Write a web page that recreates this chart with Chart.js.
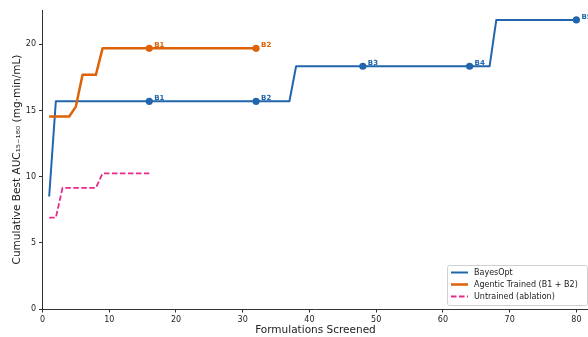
<!DOCTYPE html>
<html>
<head>
<meta charset="utf-8">
<script src="https://cdn.jsdelivr.net/npm/chart.js@4/dist/chart.umd.min.js"></script>
<style>
html,body{margin:0;padding:0;background:#fff;overflow:hidden;width:588px;height:337px;}
canvas{display:block;}
</style>
</head>
<body>
<canvas id="c" width="592" height="337"></canvas>
<script>
// ---- data ----
const bayesX = [1, 2, 16, 32, 37, 38, 48, 64, 67, 68, 80];
const bayesY = [8.5, 15.7, 15.7, 15.7, 15.7, 18.35, 18.35, 18.35, 18.35, 21.85, 21.85];
const agentX = [1, 4, 5, 6, 8, 9, 16, 32];
const agentY = [14.55, 14.55, 15.3, 17.7, 17.7, 19.7, 19.7, 19.7];
const untrX = [1, 2, 3, 8, 9, 16];
const untrY = [6.9, 6.9, 9.15, 9.15, 10.25, 10.25];
const bayesMarkX = [16, 32, 48, 64, 80];
const bayesMarkLabels = ['B1', 'B2', 'B3', 'B4', 'B5'];
const agentMarkX = [16, 32];
const agentMarkLabels = ['B1', 'B2'];
const xTicks = [0, 10, 20, 30, 40, 50, 60, 70, 80];
const yTicks = [0, 5, 10, 15, 20];
const seriesNames = ['BayesOpt', 'Agentic Trained (B1 + B2)', 'Untrained (ablation)'];

const BLUE = '#2166ac', ORANGE = '#de6208', PINK = '#e7298a';
const FONT = "'DejaVu Sans', sans-serif";
const zip = (xs, ys) => xs.map((x, i) => ({x: x, y: ys[i]}));

const labelPlugin = {
  id: 'markLabels',
  afterDatasetsDraw(chart) {
    const ctx = chart.ctx, xs = chart.scales.x, ys = chart.scales.y;
    ctx.save();
    ctx.font = "bold 7px " + FONT;
    ctx.textBaseline = 'middle';
    ctx.textAlign = 'left';
    const put = (xsArr, labels, data, color) => {
      xsArr.forEach((x, i) => {
        const pt = data.find(p => p.x === x);
        ctx.fillStyle = color;
        ctx.fillText(labels[i], xs.getPixelForValue(x) + 5, ys.getPixelForValue(pt.y) - 3);
      });
    };
    put(bayesMarkX, bayesMarkLabels, zip(bayesX, bayesY), BLUE);
    put(agentMarkX, agentMarkLabels, zip(agentX, agentY), ORANGE);
    ctx.restore();
  }
};

const legendPlugin = {
  id: 'boxLegend',
  afterDraw(chart) {
    const ctx = chart.ctx;
    const bx = 447, by = 265, bw = 140, bh = 40;
    ctx.save();
    ctx.fillStyle = 'rgba(255,255,255,0.85)';
    ctx.strokeStyle = '#d0d0d0';
    ctx.lineWidth = 1;
    ctx.beginPath();
    ctx.roundRect(bx + 0.5, by + 0.5, bw, bh, 2);
    ctx.fill(); ctx.stroke();
    const styles = [
      {c: BLUE, w: 2, d: []},
      {c: ORANGE, w: 2.5, d: []},
      {c: PINK, w: 1.8, d: [5.5, 2.5]}
    ];
    const rows = [272.5, 284.5, 296.5];
    ctx.font = "8px " + FONT;
    ctx.textBaseline = 'middle';
    seriesNames.forEach((n, i) => {
      const s = styles[i];
      ctx.strokeStyle = s.c; ctx.lineWidth = s.w; ctx.setLineDash(s.d);
      ctx.beginPath(); ctx.moveTo(451, rows[i]); ctx.lineTo(468, rows[i]); ctx.stroke();
      ctx.setLineDash([]);
      ctx.fillStyle = '#222';
      ctx.fillText(n, 474, rows[i]);
    });
    ctx.restore();
  }
};

const axisCommon = {
  type: 'linear',
  grid: {drawOnChartArea: false, drawTicks: true, tickLength: 3.5, color: '#333', lineWidth: 1},
  border: {display: true, color: '#333', width: 1},
  ticks: {color: '#222', font: {family: FONT, size: 8}}
};

new Chart(document.getElementById('c'), {
  type: 'line',
  data: {
    datasets: [
      {
        label: seriesNames[0], data: zip(bayesX, bayesY), order: 3,
        borderColor: BLUE, backgroundColor: BLUE, borderWidth: 2, tension: 0,
        borderJoinStyle: 'round',
        pointRadius: c => (c.raw && bayesMarkX.includes(c.raw.x)) ? 3.6 : 0,
        pointBorderWidth: 0, pointHoverRadius: 0
      },
      {
        label: seriesNames[1], data: zip(agentX, agentY), order: 2,
        borderColor: ORANGE, backgroundColor: ORANGE, borderWidth: 2.5, tension: 0,
        borderJoinStyle: 'round',
        pointRadius: c => (c.raw && agentMarkX.includes(c.raw.x)) ? 3.6 : 0,
        pointBorderWidth: 0, pointHoverRadius: 0
      },
      {
        label: seriesNames[2], data: zip(untrX, untrY), order: 1,
        borderColor: PINK, backgroundColor: PINK, borderWidth: 1.8, tension: 0,
        borderDash: [5.5, 2.5], pointRadius: 0
      }
    ]
  },
  options: {
    responsive: false, animation: false, events: [],
    layout: {padding: {top: 10, right: 0, left: 0, bottom: 0}},
    plugins: {legend: {display: false}, tooltip: {enabled: false}},
    scales: {
      x: Object.assign({}, axisCommon, {
        min: 0, max: 81.8,
        afterBuildTicks: s => { s.ticks = xTicks.map(v => ({value: v})); },
        afterFit: s => { s.height = 28; },
        ticks: Object.assign({}, axisCommon.ticks, {padding: 3, maxRotation: 0}),
        title: {display: true, text: 'Formulations Screened', color: '#222',
                font: {family: FONT, size: 10.5}, padding: {top: 0, bottom: 0}}
      }),
      y: Object.assign({}, axisCommon, {
        min: 0, max: 22.6,
        afterBuildTicks: s => { s.ticks = yTicks.map(v => ({value: v})); },
        afterFit: s => { s.width = 42.5; },
        ticks: Object.assign({}, axisCommon.ticks, {padding: 3}),
        title: {display: true, text: 'Cumulative Best AUC\u2081\u2085\u208B\u2081\u2088\u2080 (mg\u00B7min/mL)', color: '#222',
                font: {family: FONT, size: 10.5}, padding: {top: 10.5, bottom: 0}}
      })
    }
  },
  plugins: [labelPlugin, legendPlugin]
});
</script>
</body>
</html>
